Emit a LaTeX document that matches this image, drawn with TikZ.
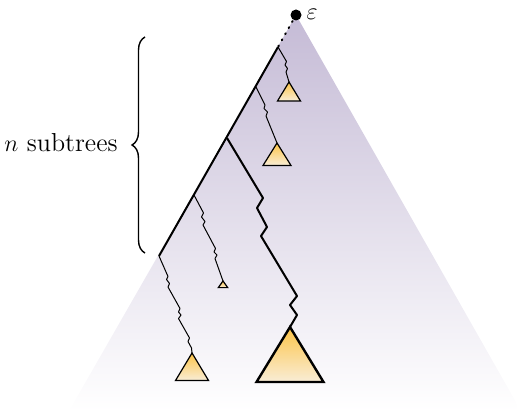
\documentclass[tikz,border=0pt]{standalone}
\usepackage{amsmath,amssymb}
\usepackage{xcolor}
\usepackage{tikz}
\usetikzlibrary{calc,decorations.pathreplacing}
\definecolor{haze}{RGB}{197,187,214}
\definecolor{leaftop}{RGB}{252,196,72}
\definecolor{leafbot}{RGB}{249,237,214}

\begin{document}
\begin{tikzpicture}[x=0.5pt,y=-0.5pt,
    spine/.style={line width=1pt,line join=round},
    twig/.style={line width=0.5pt,line join=round},
    leaf/.style={draw=black,line width=0.6pt,line join=miter,
                 top color=leaftop,bottom color=leafbot}]
  \useasboundingbox (0,0) rectangle (517,411);
  % the whole tree below the root
  \shade[top color=haze,middle color=haze!85!white,bottom color=white]
    (296,15) -- (69,411) -- (521,411) -- cycle;

  \coordinate (root) at (296,15);
  \coordinate (s0) at (278,47);
  \coordinate (s1) at (256,87);
  \coordinate (s2) at (227,138);
  \coordinate (s3) at (194,195);
  \coordinate (s4) at (159,256);
  \coordinate (t1) at (289,82);
  \coordinate (t2) at (277,143);
  \coordinate (t3) at (223,281);
  \coordinate (t4) at (192,353);
  \coordinate (t5) at (290,327);

  % subtrees
  \filldraw[leaf] (t1) -- ++(-11.5,19) -- ++(23,0) -- cycle;
  \filldraw[leaf] (t2) -- ++(-14,22.5) -- ++(28,0) -- cycle;
  \filldraw[leaf] (t3) -- ++(-4.7,6.6) -- ++(9.4,0) -- cycle;
  \filldraw[leaf] (t4) -- ++(-16.5,27.5) -- ++(33,0) -- cycle;
  \filldraw[leaf,line width=1.2pt] (t5) -- ++(-33.5,55) -- ++(67,0) -- cycle;

  % paths into the subtrees
  \draw[twig] (s0) -- (286.5,61.5) -- (285,65) -- (287.5,68.5) -- (286,72) -- (t1);
  \draw[twig] (s1) -- (265,105) -- (264,108.5) -- (267.5,112) -- (266,116) -- (t2);
  \draw[twig] (s3) -- (203.5,213) -- (201.5,217) -- (205,221.5) -- (203,225)
    -- (215.5,248.5) -- (214,252) -- (217,255) -- (215,258.5) -- (t3);
  \draw[twig] (s4) -- (168,276.5) -- (166.5,279.5) -- (169.5,283.5) -- (168,287)
    -- (180,308.5) -- (178.5,312) -- (181,315) -- (178.5,318.5)
    -- (189.5,338) -- (188,341.5) -- (191.5,348) -- (t4);
  \draw[spine] (s2) -- (263,198) -- (257,208) -- (267,227) -- (261,236)
    -- (297,296) -- (290,305) -- (297,315) -- (t5);

  % left spine
  \draw[spine,line cap=round,dash pattern=on 0.5pt off 3pt] (root) -- (s0);
  \draw[spine] (s0) -- (s4);
  \fill (root) circle[radius=5.5];
  \node[font=\large] (eps) at (312,14) {$\varepsilon$};

  \draw[line width=0.7pt,decorate,decoration={brace,amplitude=6.5pt}] (145,253) -- (145,37);
  \node[font=\fontsize{13}{15}\selectfont] (lbl) at (61,143) {$n$ subtrees};
\end{tikzpicture}
\end{document}
